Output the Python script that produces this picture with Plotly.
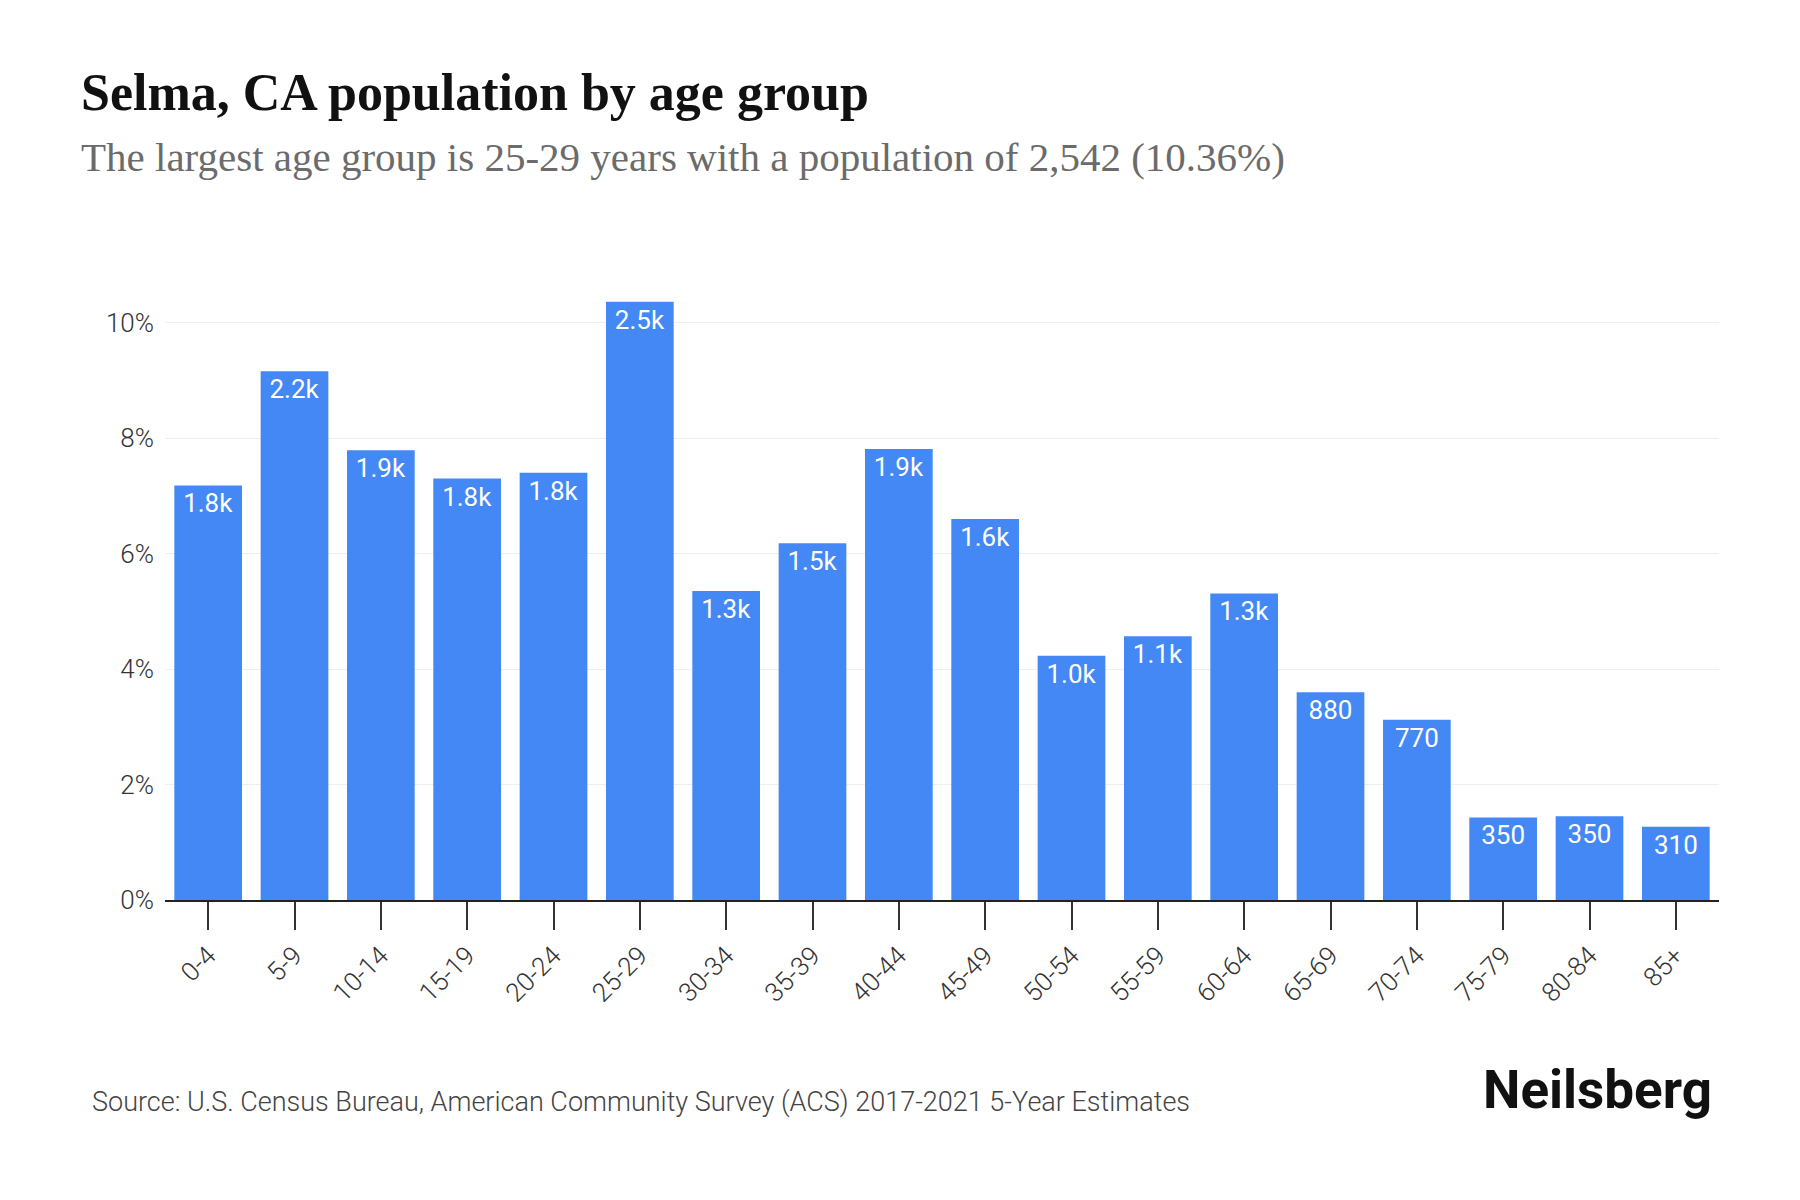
import plotly.graph_objects as go

age_groups = ["0-4", "5-9", "10-14", "15-19", "20-24", "25-29", "30-34", "35-39", "40-44",
              "45-49", "50-54", "55-59", "60-64", "65-69", "70-74", "75-79", "80-84", "85+"]
pct_values = [7.18, 9.16, 7.79, 7.30, 7.40, 10.36, 5.35, 6.18, 7.81,
              6.60, 4.23, 4.57, 5.31, 3.60, 3.12, 1.43, 1.45, 1.27]
pop_labels = ["1.8k", "2.2k", "1.9k", "1.8k", "1.8k", "2.5k", "1.3k", "1.5k", "1.9k",
              "1.6k", "1.0k", "1.1k", "1.3k", "880", "770", "350", "350", "310"]
y_ticks = [0, 2, 4, 6, 8, 10]
y_tick_labels = ["0%", "2%", "4%", "6%", "8%", "10%"]

W, H = 1800, 1200
OFF = 8  # page body margin offset
L, R, T, B = 165 - OFF, 81 + OFF, 288 - OFF, 300 + OFF
PW, PH = W - L - R, H - T - B


def px(xpix):
    return (xpix - OFF - L) / PW


def py(ypix):
    return 1 - (ypix - OFF - T) / PH


fig = go.Figure(go.Bar(
    x=age_groups, y=pct_values, text=pop_labels,
    marker=dict(color="#4388F5", line=dict(width=0)),
    textposition="inside", insidetextanchor="end", textangle=0,
    constraintext="none",
    textfont=dict(family="Roboto", size=26, color="white"),
    hoverinfo="skip",
))

fig.update_layout(
    width=W, height=H,
    margin=dict(l=L, r=R, t=T, b=B),
    paper_bgcolor="white", plot_bgcolor="white",
    bargap=0.216,
    showlegend=False,
    xaxis=dict(
        tickangle=-45, ticks="outside", ticklen=28, tickwidth=1.5, tickcolor="#333",
        tickfont=dict(family="Roboto", size=26, color="#333", weight=300),
        showline=True, linecolor="#222", linewidth=2,
        showgrid=False, fixedrange=True,
    ),
    yaxis=dict(
        range=[0, 10.6], tickvals=y_ticks, ticktext=y_tick_labels,
        tickfont=dict(family="Roboto", size=26, color="#333", weight=300),
        showgrid=True, gridcolor="#EFEFEF", gridwidth=1,
        zeroline=False, showline=False, ticks="", ticklabelstandoff=10,
        fixedrange=True,
    ),
    annotations=[
        dict(text="<b>Selma, CA population by age group</b>", xref="paper", yref="paper",
             x=px(79), y=py(92),
             xanchor="left", yanchor="middle", showarrow=False,
             font=dict(family="Liberation Serif", size=52, color="#111")),
        dict(text="The largest age group is 25-29 years with a population of 2,542 (10.36%)",
             xref="paper", yref="paper",
             x=px(79), y=py(157),
             xanchor="left", yanchor="middle", showarrow=False,
             font=dict(family="Liberation Serif", size=41, color="#6b6b6b")),
        dict(text="Source: U.S. Census Bureau, American Community Survey (ACS) 2017-2021 5-Year Estimates",
             xref="paper", yref="paper",
             x=px(90), y=py(1102),
             xanchor="left", yanchor="middle", showarrow=False,
             font=dict(family="Roboto", size=27, color="#444", weight=300)),
        dict(text="<b>Neilsberg</b>", xref="paper", yref="paper",
             x=px(1714), y=py(1090),
             xanchor="right", yanchor="middle", showarrow=False,
             font=dict(family="Roboto", size=53, color="#111")),
    ],
)

fig.write_html("out.html")
